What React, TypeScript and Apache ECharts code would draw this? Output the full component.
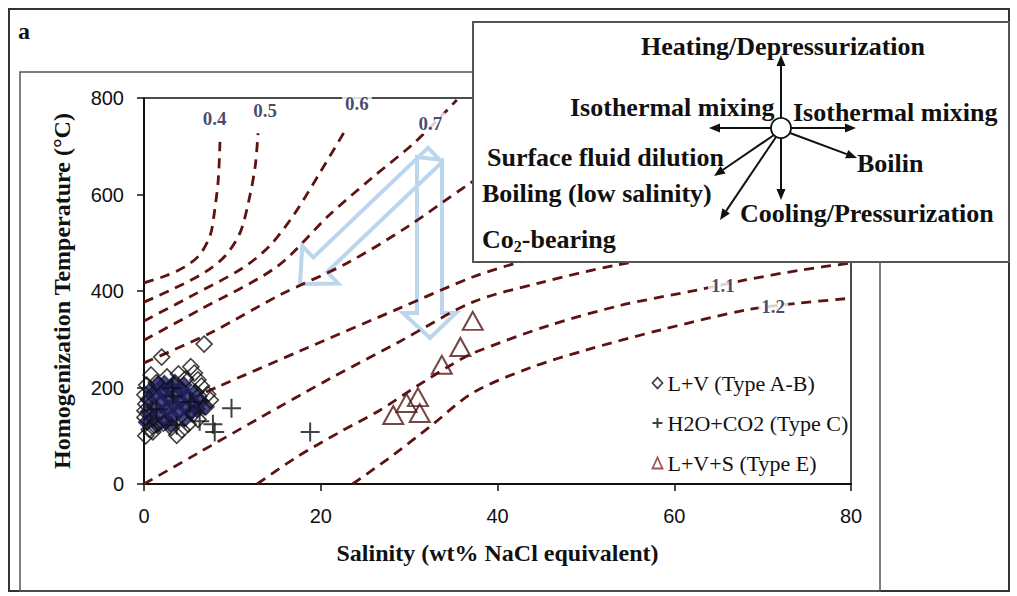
import React, { useEffect, useRef } from 'react';
import * as echarts from 'echarts';

// ---------- data ----------
const xMin = 0, xMax = 80, xStep = 20;
const yMin = 0, yMax = 800, yStep = 200;

// density isochores (salinity wt%, Th °C)
const iso04 = [[0, 417], [2.4, 431], [4.6, 450], [6.3, 475], [7.5, 516], [8.0, 568], [8.4, 630], [8.6, 709]];
const iso05 = [[0, 377], [3.5, 406], [6.9, 439], [9.2, 473], [10.9, 522], [12.0, 599], [12.6, 661], [12.9, 727]];
const iso06 = [[0, 338], [5.2, 388], [11.2, 448], [14.3, 495], [17.1, 562], [19.9, 645], [23.0, 740]];
const iso07 = [[0, 298], [6.3, 361], [15.0, 450], [21.0, 558], [25.9, 636], [30.7, 709], [35.4, 796]];
const iso08 = [[0, 251], [7.5, 313], [15.4, 392], [23.0, 458], [29.8, 533], [36.3, 616], [42.5, 692], [48.2, 775]];
const iso09 = [[0, 133], [8.3, 201], [17.7, 276], [29.0, 365], [37.2, 429], [42.5, 460], [51.6, 506], [62.9, 543]];
const iso10 = [[0, 0], [6.3, 66], [13.1, 137], [21.0, 218], [29.0, 296], [37.2, 377], [44.8, 417], [53.5, 454], [62.9, 481], [74.2, 505]];
const iso11 = [[12.8, 0], [17.3, 56], [22.2, 108], [26.7, 153], [30.9, 203], [34.6, 245], [37.2, 271], [45.9, 329], [53.9, 370], [62.6, 402], [67.8, 422], [74.2, 443], [80, 458]];
const iso12 = [[23.6, 0], [28.2, 60], [32.7, 124], [37.2, 189], [43.7, 241], [50.1, 278], [58.4, 319], [68.2, 361], [74.2, 375], [80, 385]];
const isochores = [iso04, iso05, iso06, iso07, iso08, iso09, iso10, iso11, iso12];

const densityNames = ['0.4', '0.5', '0.6', '0.7', '1.1', '1.2'];
const densityLabelAt = [[8.0, 758], [13.7, 775], [24.1, 788], [32.4, 748], [65.5, 412], [71.2, 367]];

// L+V (Type A-B) - open diamonds
const lvPoints = [
  [0.2, 100], [0.6, 113], [0.1, 138], [0.1, 152], [0.2, 166], [0.1, 185], [0.3, 205], [0.8, 226],
  [2.0, 263], [6.8, 290], [5.3, 243], [5.7, 230], [6.1, 216], [6.5, 203], [7.2, 186], [7.5, 174],
  [7.0, 160], [6.1, 134], [3.7, 101], [4.3, 112], [2.2, 126], [1.2, 121], [3.1, 117], [5.0, 124],
  [5.6, 146], [1.4, 210], [2.6, 222], [3.9, 228], [4.7, 218], [6.2, 182], [1.0, 108],
];
// dense core of the L+V cluster (overlapping, appears filled)
const lvCore = [
  [0.5, 150], [0.5, 175], [0.8, 195], [1.0, 135], [1.2, 160], [1.3, 185], [1.6, 205], [1.8, 145],
  [2.0, 170], [2.2, 190], [2.5, 130], [2.6, 155], [2.8, 178], [3.0, 200], [3.2, 140], [3.4, 165],
  [3.6, 185], [3.9, 150], [4.1, 172], [4.3, 195], [4.6, 135], [4.8, 158], [5.0, 180], [5.3, 148],
  [5.6, 168], [6.0, 155], [6.4, 172], [6.8, 160], [1.5, 122], [3.0, 124], [0.3, 128], [2.3, 208],
  [3.5, 210], [4.5, 205], [5.8, 190],
];
// H2O+CO2 (Type C) - plus
const co2Points = [[3.2, 199], [3.3, 182], [9.9, 157], [7.8, 124], [8.0, 108], [6.3, 130], [18.8, 108], [3.7, 122], [1.4, 155], [5.2, 170]];
// L+V+S (Type E) - open triangles
const lvsPoints = [[28.2, 143], [29.7, 168], [31.0, 180], [31.2, 147], [33.7, 247], [35.8, 284], [37.2, 338]];

const seriesNames = ['L+V (Type A-B)', 'H2O+CO2 (Type C)', 'L+V+S (Type E)'];

// ---------- styles ----------
const SERIF = '"Liberation Serif", "Times New Roman", serif';
const SANS = '"Liberation Sans", Arial, sans-serif';
const ISO_COLOR = '#5e1212';
const NAVY = '#1e1e5c';
const TRI = '#521818';
const BLUE = '#bcd6ee';
const LABEL_NAVY = '#1a1a4c';
const PLUS = 'path://M5,0L5,10M0,5L10,5';

function arrow(x1: number, y1: number, x2: number, y2: number) {
  const dx = x2 - x1, dy = y2 - y1;
  const L = Math.hypot(dx, dy);
  const ux = dx / L, uy = dy / L;
  const nx = -uy, ny = ux;
  const hl = 11, hw = 4.5;
  const bx = x2 - ux * hl, by = y2 - uy * hl;
  return [
    { type: 'line', z: 61, shape: { x1, y1, x2: bx, y2: by }, style: { stroke: '#111', lineWidth: 2 } },
    {
      type: 'polygon', z: 61,
      shape: { points: [[x2, y2], [bx + nx * hw, by + ny * hw], [bx - nx * hw, by - ny * hw]] },
      style: { fill: '#111' },
    },
  ];
}

function insetText(text: string, x: number, y: number, size: number, bold = true) {
  return {
    type: 'text', z: 62, x, y,
    style: {
      text, fontFamily: SERIF, fontSize: size, fontWeight: bold ? 'bold' : 'normal',
      fill: '#111', verticalAlign: 'middle',
    },
  };
}

function hollowArrow(points: number[][]) {
  return { type: 'polygon', z: 1, shape: { points }, style: { fill: 'none', stroke: BLUE, lineWidth: 4, lineJoin: 'miter' } };
}

export default function App() {
  const ref = useRef<HTMLDivElement>(null);
  useEffect(() => {
    const chart = echarts.init(ref.current!, null, { renderer: 'svg' });

    const isoSeries = isochores.map((d, i) => ({
      type: 'line', name: 'iso' + i, data: d, showSymbol: false, symbol: 'none', smooth: 0.3,
      silent: true, z: 2, lineStyle: { color: ISO_COLOR, width: 2.8, type: [10, 7] },
    }));

    // diagonal blue arrow outline
    const tip = [300, 284], start = [435, 155];
    const ddx = tip[0] - start[0], ddy = tip[1] - start[1];
    const LL = Math.hypot(ddx, ddy);
    const ux = ddx / LL, uy = ddy / LL, nx = -uy, ny = ux;
    const B = [tip[0] - 28 * ux, tip[1] - 28 * uy];
    const diag = [
      [start[0] - 10 * nx, start[1] - 10 * ny],
      [B[0] - 10 * nx, B[1] - 10 * ny],
      [B[0] - 26 * nx, B[1] - 26 * ny],
      tip,
      [B[0] + 26 * nx, B[1] + 26 * ny],
      [B[0] + 10 * nx, B[1] + 10 * ny],
      [start[0] + 10 * nx, start[1] + 10 * ny],
    ];
    const vert = [[417, 157], [442, 160], [442, 313], [456, 313], [430, 338], [403, 313], [417, 313]];

    const option: any = {
      animation: false,
      backgroundColor: '#fff',
      grid: { left: 144, top: 98, right: 166, bottom: 112, show: true, borderColor: '#111', borderWidth: 1.5, backgroundColor: 'transparent' },
      xAxis: {
        type: 'value', min: xMin, max: xMax, interval: xStep,
        name: 'Salinity (wt% NaCl equivalent)', nameLocation: 'middle', nameGap: 57,
        nameTextStyle: { fontFamily: SERIF, fontWeight: 'bold', fontSize: 24, color: '#111' },
        axisLine: { show: true, lineStyle: { color: '#111', width: 2 } },
        axisTick: { show: true, length: 7, lineStyle: { color: '#111', width: 1.5 } },
        axisLabel: { margin: 22, fontFamily: SANS, fontSize: 20, color: '#111' },
        splitLine: { show: false },
      },
      yAxis: {
        type: 'value', min: yMin, max: yMax, interval: yStep,
        name: 'Homogenization Temperature (°C)', nameLocation: 'middle', nameGap: 70,
        nameTextStyle: { fontFamily: SERIF, fontWeight: 'bold', fontSize: 24, color: '#111' },
        axisLine: { show: true, lineStyle: { color: '#111', width: 2 } },
        axisTick: { show: true, length: 7, lineStyle: { color: '#111', width: 1.5 } },
        axisLabel: { margin: 20, fontFamily: SANS, fontSize: 20, color: '#111' },
        splitLine: { show: false },
      },
      legend: {
        orient: 'vertical', left: 645, top: 367, itemWidth: 10, itemHeight: 11, itemGap: 18,
        selectedMode: false,
        textStyle: { fontFamily: SERIF, fontSize: 22, color: '#111', lineHeight: 22 },
        data: [
          { name: seriesNames[0], icon: 'diamond', itemStyle: { color: 'none', borderColor: '#111', borderWidth: 1.8 } },
          { name: seriesNames[1], icon: PLUS, itemStyle: { color: 'none', borderColor: '#111', borderWidth: 2 } },
          { name: seriesNames[2], icon: 'triangle', itemStyle: { color: 'none', borderColor: '#8a2a2a', borderWidth: 1.8 } },
        ],
      },
      series: [
        ...isoSeries,
        {
          type: 'scatter', name: seriesNames[0], symbol: 'diamond', symbolSize: 16, z: 3,
          itemStyle: { color: 'none', borderColor: '#111', borderWidth: 1.6 },
          data: [
            ...lvCore.map((p) => ({ value: p, itemStyle: { color: NAVY, borderColor: NAVY } })),
            ...lvPoints.map((p) => ({ value: p })),
          ],
        },
        {
          type: 'scatter', name: seriesNames[1], symbol: PLUS, symbolSize: 19, z: 4,
          itemStyle: { color: 'none', borderColor: '#111', borderWidth: 2 },
          data: co2Points,
        },
        {
          type: 'scatter', name: seriesNames[2], symbol: 'triangle', symbolSize: [20, 18], z: 3,
          itemStyle: { color: 'none', borderColor: TRI, borderWidth: 2 },
          data: lvsPoints,
        },
        {
          type: 'scatter', name: 'density', symbolSize: 1, z: 5, silent: true,
          itemStyle: { color: 'transparent' },
          label: {
            show: true, position: 'inside', formatter: '{b}', fontFamily: SERIF, fontWeight: 'bold',
            fontSize: 19, color: LABEL_NAVY, backgroundColor: '#fff', padding: [1, 3],
          },
          data: densityNames.map((n, i) => ({ name: n, value: densityLabelAt[i] })),
        },
      ],
      graphic: [
        { type: 'rect', z: 0, shape: { x: 9, y: 9, width: 1000, height: 582 }, style: { fill: 'none', stroke: '#333', lineWidth: 2 } },
        { type: 'rect', z: 0, shape: { x: 20, y: 72, width: 860, height: 519 }, style: { fill: 'none', stroke: '#555', lineWidth: 1.5 } },
        { type: 'text', z: 10, x: 18, y: 31, style: { text: 'a', fontFamily: SERIF, fontWeight: 'bold', fontSize: 24, fill: '#111', verticalAlign: 'middle' } },
        hollowArrow(diag),
        hollowArrow(vert),
        { type: 'rect', z: 60, shape: { x: 473, y: 22, width: 536, height: 240 }, style: { fill: '#fff', stroke: '#555', lineWidth: 2 } },
        insetText('Heating/Depressurization', 641, 46, 26),
        insetText('Isothermal mixing', 570, 107, 26),
        insetText('Isothermal mixing', 793, 112, 26),
        insetText('Surface fluid dilution', 487, 157, 26),
        insetText('Boilin', 857, 163, 26),
        insetText('Boiling (low salinity)', 482, 193, 26),
        insetText('Cooling/Pressurization', 740, 213, 26),
        {
          type: 'text', z: 62, x: 482, y: 239,
          style: {
            text: '{a|Co}{b|2}{a|-bearing}', verticalAlign: 'middle',
            rich: {
              a: { fontFamily: SERIF, fontWeight: 'bold', fontSize: 26, fill: '#111', lineHeight: 30, verticalAlign: 'middle' },
              b: { fontFamily: SERIF, fontWeight: 'bold', fontSize: 16, fill: '#111', lineHeight: 30, verticalAlign: 'bottom' },
            },
          },
        },
        ...arrow(781, 118, 781, 55),
        ...arrow(771, 128, 709, 128),
        ...arrow(791, 128, 856, 128),
        ...arrow(781, 138, 781, 200),
        ...arrow(790, 133, 857, 158),
        ...arrow(774, 135, 714, 176),
        ...arrow(776, 137, 720, 220),
        { type: 'circle', z: 63, shape: { cx: 781, cy: 128, r: 10 }, style: { fill: '#fff', stroke: '#111', lineWidth: 1.8 } },
      ],
    };
    chart.setOption(option);
    return () => chart.dispose();
  }, []);
  return <div ref={ref} style={{ position: 'absolute', left: 0, top: 0, width: 1017, height: 596, background: '#fff' }} />;
}
